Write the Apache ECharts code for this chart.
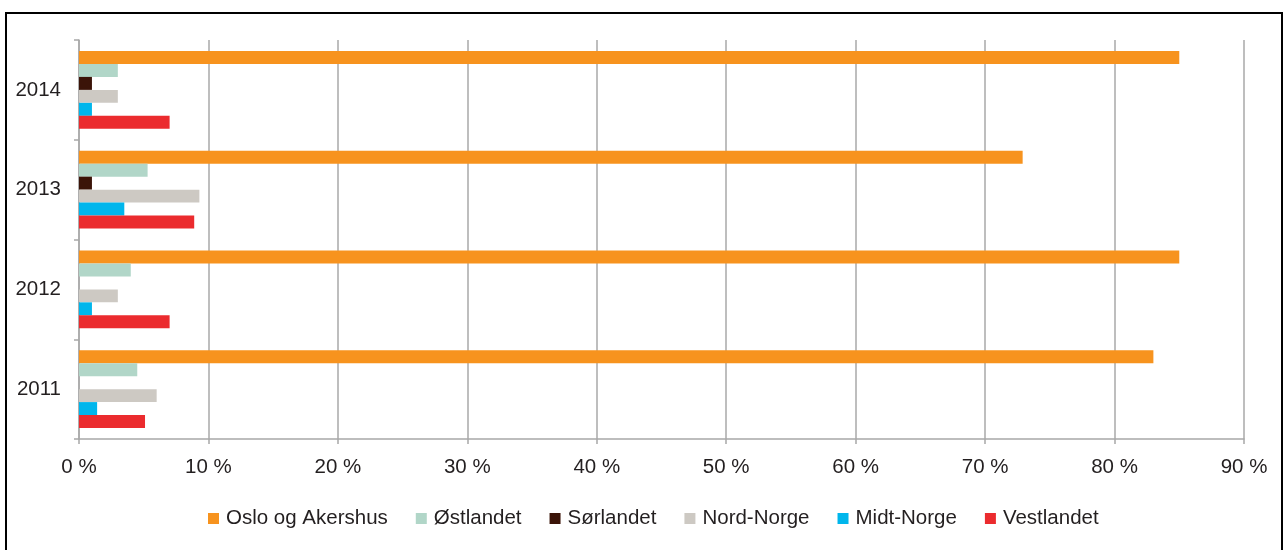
<!DOCTYPE html>
<html>
<head>
<meta charset="utf-8">
<title>Andel per landsdel 2011–2014</title>
<script src="https://cdn.jsdelivr.net/npm/echarts@6/dist/echarts.min.js"></script>
<style>
  html, body { margin: 0; padding: 0; background: #ffffff; }
  #chart { width: 1284px; height: 550px; }
</style>
</head>
<body>
<div id="chart"></div>
<script>
// Years on the category axis (bottom to top)
const years = ['2011', '2012', '2013', '2014'];

// Share per region, in percent, one value per year (2011..2014)
const osloOgAkershus = [83, 85, 72.9, 85];
const ostlandet      = [4.5, 4, 5.3, 3];
const sorlandet      = [0, 0, 1, 1];
const nordNorge      = [6, 3, 9.3, 3];
const midtNorge      = [1.4, 1, 3.5, 1];
const vestlandet     = [5.1, 7, 8.9, 7];

// Value axis ticks
const xTicks = [0, 10, 20, 30, 40, 50, 60, 70, 80, 90];

const regions = [
  { name: 'Oslo og Akershus', data: osloOgAkershus, color: '#F7931E' },
  { name: 'Østlandet',        data: ostlandet,      color: '#B1D6C8' },
  { name: 'Sørlandet',        data: sorlandet,      color: '#3B1408' },
  { name: 'Nord-Norge',       data: nordNorge,      color: '#CDC9C3' },
  { name: 'Midt-Norge',       data: midtNorge,      color: '#00B6EC' },
  { name: 'Vestlandet',       data: vestlandet,     color: '#EB2B2E' }
];

const textColor = '#231F20';
const fontFamily = '"Liberation Sans", Arial, sans-serif';
const axisGray = '#A8A8A8';
const fontSize = 20.5;

// One bar series per region; Oslo og Akershus sits on top of each year group.
const series = regions.map(r => ({
  name: r.name,
  type: 'bar',
  data: r.data,
  itemStyle: { color: r.color },
  barGap: '0%',
  barCategoryGap: '22%',
  emphasis: { disabled: true }
}));

const chart = echarts.init(document.getElementById('chart'), null, { renderer: 'canvas' });

chart.setOption({
  animation: false,
  backgroundColor: '#ffffff',
  textStyle: { fontFamily: fontFamily, color: textColor },
  graphic: [{
    type: 'rect',
    shape: { x: 6, y: 13, width: 1276, height: 600 },
    style: { fill: 'none', stroke: '#000000', lineWidth: 2 },
    silent: true
  }],
  grid: { left: 79, right: 40, top: 40, bottom: 111, containLabel: false },
  legend: {
    data: regions.map(r => r.name),
    left: 203,
    top: 503,
    icon: 'rect',
    itemWidth: 11,
    itemHeight: 11,
    itemGap: 28,
    textStyle: { fontSize: fontSize, color: textColor, fontFamily: fontFamily, padding: [0, 0, 0, 2] },
    selectedMode: false
  },
  xAxis: {
    type: 'value',
    min: xTicks[0],
    max: xTicks[xTicks.length - 1],
    interval: 10,
    axisLine: { show: true, lineStyle: { color: axisGray, width: 1.5 } },
    axisTick: { show: true, length: 5, lineStyle: { color: axisGray, width: 1.5 } },
    axisLabel: {
      margin: 18,
      fontSize: fontSize,
      color: textColor,
      fontFamily: fontFamily,
      formatter: v => v + ' %'
    },
    splitLine: { show: true, lineStyle: { color: axisGray, width: 1.5 } }
  },
  yAxis: {
    type: 'category',
    data: years,
    axisLine: { show: true, lineStyle: { color: axisGray, width: 1.5 } },
    axisTick: { show: true, length: 5, lineStyle: { color: axisGray, width: 1.5 } },
    axisLabel: { margin: 18, fontSize: fontSize, color: textColor, fontFamily: fontFamily },
    splitLine: { show: false }
  },
  series: series
});
</script>
</body>
</html>
